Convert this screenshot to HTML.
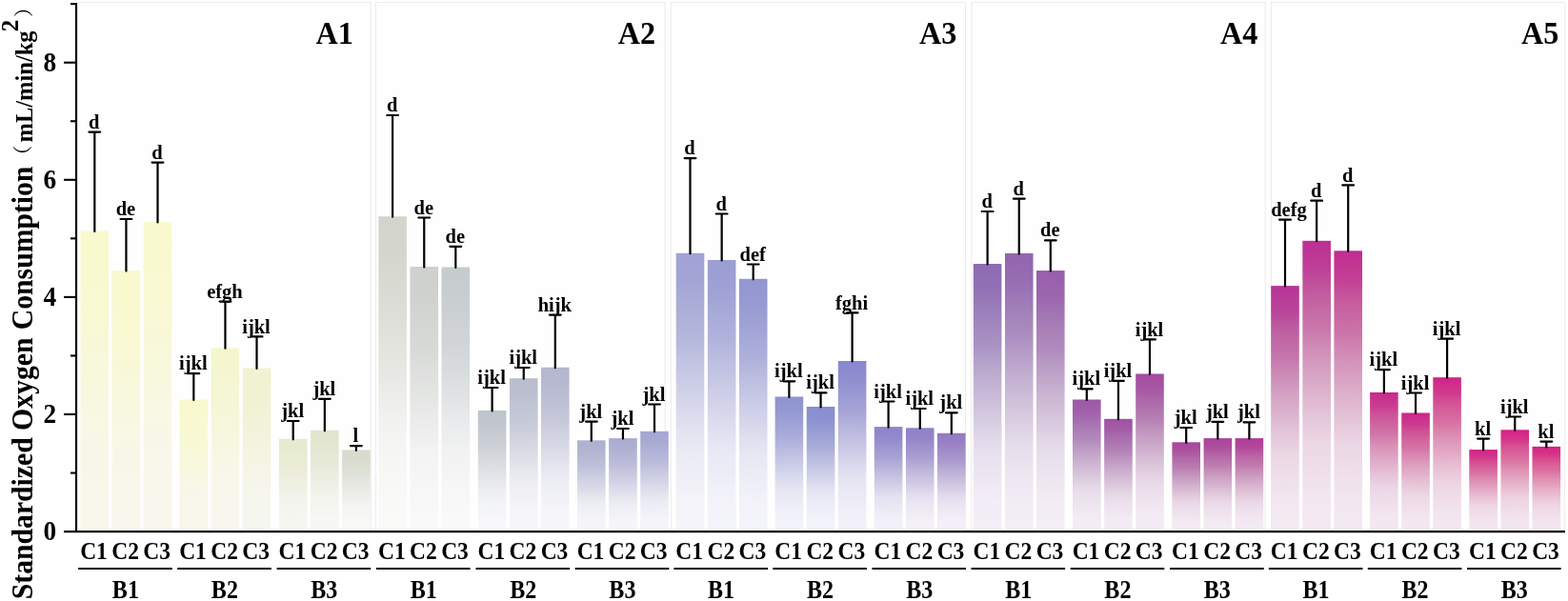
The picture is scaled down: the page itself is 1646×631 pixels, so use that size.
<!DOCTYPE html>
<html lang="en"><head><meta charset="utf-8"><title>Standardized Oxygen Consumption</title>
<style>
html,body{margin:0;padding:0;background:#fff;}
body{width:1646px;height:631px;overflow:hidden;}
svg{display:block;}
text{font-family:"Liberation Serif","Noto Serif CJK SC",serif;font-weight:bold;fill:#000;}
.sig{font-size:20.5px;text-anchor:middle;}
.c{font-size:26.2px;text-anchor:middle;}
.b{font-size:27.5px;text-anchor:middle;}
.yt{font-size:29.4px;text-anchor:end;}
.pt{font-size:34.5px;text-anchor:end;}
.ttl{font-size:31px;}
.unit{font-size:25px;}
.sup{font-size:25px;}
.par{font-family:"Liberation Serif","Noto Serif CJK SC",serif;font-weight:normal;font-size:20.5px;}
.ax{stroke:#000;stroke-width:2.1;fill:none;}
.eb{stroke:#000;stroke-width:2.2;fill:none;stroke-linecap:round;}
.gl{stroke:#000;stroke-width:2;fill:none;}
.pn{fill:#fefefe;stroke:#ececec;stroke-width:1;}
</style></head><body>
<svg width="1646" height="631" viewBox="0 0 1646 631">
<rect x="0" y="0" width="1646" height="631" fill="#ffffff"/>
<defs>
<linearGradient id="g0" x1="0" y1="0" x2="0" y2="1"><stop offset="0" stop-color="#f9f9ce"/><stop offset="0.05" stop-color="#f9f9ce"/><stop offset="0.1" stop-color="#f9f9cf"/><stop offset="0.15" stop-color="#f9f9d0"/><stop offset="0.2" stop-color="#f9f9d2"/><stop offset="0.25" stop-color="#f9f9d3"/><stop offset="0.3" stop-color="#f9f9d4"/><stop offset="0.35" stop-color="#f8f8d7"/><stop offset="0.4" stop-color="#f8f8d9"/><stop offset="0.45" stop-color="#f8f8db"/><stop offset="0.5" stop-color="#f8f8de"/><stop offset="0.55" stop-color="#f8f8e0"/><stop offset="0.6" stop-color="#f8f8e2"/><stop offset="0.65" stop-color="#f8f8e5"/><stop offset="0.7" stop-color="#f7f7e7"/><stop offset="0.75" stop-color="#f7f7e8"/><stop offset="0.8" stop-color="#f7f7e9"/><stop offset="0.85" stop-color="#f7f7ea"/><stop offset="0.9" stop-color="#f7f7eb"/><stop offset="0.95" stop-color="#f7f7ec"/><stop offset="1" stop-color="#f7f7ec"/></linearGradient>
<linearGradient id="g1" x1="0" y1="0" x2="0" y2="1"><stop offset="0" stop-color="#f9f9ce"/><stop offset="0.05" stop-color="#f9f9cf"/><stop offset="0.1" stop-color="#f9f9cf"/><stop offset="0.15" stop-color="#f9f9d0"/><stop offset="0.2" stop-color="#f9f9d2"/><stop offset="0.25" stop-color="#f9f9d3"/><stop offset="0.3" stop-color="#f9f9d5"/><stop offset="0.35" stop-color="#f8f8d7"/><stop offset="0.4" stop-color="#f8f8d9"/><stop offset="0.45" stop-color="#f8f8dc"/><stop offset="0.5" stop-color="#f8f8de"/><stop offset="0.55" stop-color="#f8f8e1"/><stop offset="0.6" stop-color="#f8f8e3"/><stop offset="0.65" stop-color="#f8f8e6"/><stop offset="0.7" stop-color="#f7f7e8"/><stop offset="0.75" stop-color="#f7f7e9"/><stop offset="0.8" stop-color="#f7f7ea"/><stop offset="0.85" stop-color="#f7f7eb"/><stop offset="0.9" stop-color="#f7f7ec"/><stop offset="0.95" stop-color="#f7f7ed"/><stop offset="1" stop-color="#f7f7ed"/></linearGradient>
<linearGradient id="g2" x1="0" y1="0" x2="0" y2="1"><stop offset="0" stop-color="#f9f9ce"/><stop offset="0.05" stop-color="#f9f9cf"/><stop offset="0.1" stop-color="#f9f9cf"/><stop offset="0.15" stop-color="#f9f9d1"/><stop offset="0.2" stop-color="#f9f9d2"/><stop offset="0.25" stop-color="#f9f9d3"/><stop offset="0.3" stop-color="#f9f9d5"/><stop offset="0.35" stop-color="#f8f8d7"/><stop offset="0.4" stop-color="#f8f8da"/><stop offset="0.45" stop-color="#f8f8dc"/><stop offset="0.5" stop-color="#f8f8df"/><stop offset="0.55" stop-color="#f8f8e1"/><stop offset="0.6" stop-color="#f8f8e4"/><stop offset="0.65" stop-color="#f8f8e6"/><stop offset="0.7" stop-color="#f7f7e9"/><stop offset="0.75" stop-color="#f7f7ea"/><stop offset="0.8" stop-color="#f7f7eb"/><stop offset="0.85" stop-color="#f7f7ec"/><stop offset="0.9" stop-color="#f7f7ed"/><stop offset="0.95" stop-color="#f7f7ee"/><stop offset="1" stop-color="#f7f7ee"/></linearGradient>
<linearGradient id="g3" x1="0" y1="0" x2="0" y2="1"><stop offset="0" stop-color="#f8f9cd"/><stop offset="0.05" stop-color="#f8f9ce"/><stop offset="0.1" stop-color="#f8f9ce"/><stop offset="0.15" stop-color="#f8f9d0"/><stop offset="0.2" stop-color="#f8f9d1"/><stop offset="0.25" stop-color="#f8f9d3"/><stop offset="0.3" stop-color="#f8f9d4"/><stop offset="0.35" stop-color="#f8f8d7"/><stop offset="0.4" stop-color="#f8f8d9"/><stop offset="0.45" stop-color="#f8f8dc"/><stop offset="0.5" stop-color="#f8f8de"/><stop offset="0.55" stop-color="#f7f8e1"/><stop offset="0.6" stop-color="#f7f8e4"/><stop offset="0.65" stop-color="#f7f8e6"/><stop offset="0.7" stop-color="#f7f7e9"/><stop offset="0.75" stop-color="#f7f7ea"/><stop offset="0.8" stop-color="#f7f7eb"/><stop offset="0.85" stop-color="#f7f7ec"/><stop offset="0.9" stop-color="#f7f7ed"/><stop offset="0.95" stop-color="#f7f7ee"/><stop offset="1" stop-color="#f7f7ee"/></linearGradient>
<linearGradient id="g4" x1="0" y1="0" x2="0" y2="1"><stop offset="0" stop-color="#f5f6cf"/><stop offset="0.05" stop-color="#f5f6d0"/><stop offset="0.1" stop-color="#f5f6d0"/><stop offset="0.15" stop-color="#f5f6d2"/><stop offset="0.2" stop-color="#f5f6d3"/><stop offset="0.25" stop-color="#f5f6d4"/><stop offset="0.3" stop-color="#f5f6d6"/><stop offset="0.35" stop-color="#f6f6d8"/><stop offset="0.4" stop-color="#f6f6db"/><stop offset="0.45" stop-color="#f6f6dd"/><stop offset="0.5" stop-color="#f6f7e0"/><stop offset="0.55" stop-color="#f6f7e2"/><stop offset="0.6" stop-color="#f6f7e5"/><stop offset="0.65" stop-color="#f6f7e7"/><stop offset="0.7" stop-color="#f7f7ea"/><stop offset="0.75" stop-color="#f7f7eb"/><stop offset="0.8" stop-color="#f7f7ec"/><stop offset="0.85" stop-color="#f7f7ed"/><stop offset="0.9" stop-color="#f7f7ee"/><stop offset="0.95" stop-color="#f7f7ef"/><stop offset="1" stop-color="#f7f7ef"/></linearGradient>
<linearGradient id="g5" x1="0" y1="0" x2="0" y2="1"><stop offset="0" stop-color="#f0f2d0"/><stop offset="0.05" stop-color="#f0f2d1"/><stop offset="0.1" stop-color="#f0f2d1"/><stop offset="0.15" stop-color="#f0f2d3"/><stop offset="0.2" stop-color="#f1f2d4"/><stop offset="0.25" stop-color="#f1f3d5"/><stop offset="0.3" stop-color="#f1f3d7"/><stop offset="0.35" stop-color="#f2f3d9"/><stop offset="0.4" stop-color="#f2f3dc"/><stop offset="0.45" stop-color="#f3f4de"/><stop offset="0.5" stop-color="#f3f4e1"/><stop offset="0.55" stop-color="#f4f4e3"/><stop offset="0.6" stop-color="#f4f5e6"/><stop offset="0.65" stop-color="#f5f5e8"/><stop offset="0.7" stop-color="#f5f5eb"/><stop offset="0.75" stop-color="#f5f5ec"/><stop offset="0.8" stop-color="#f5f6ed"/><stop offset="0.85" stop-color="#f6f6ee"/><stop offset="0.9" stop-color="#f6f6ef"/><stop offset="0.95" stop-color="#f6f6f0"/><stop offset="1" stop-color="#f6f6f0"/></linearGradient>
<linearGradient id="g6" x1="0" y1="0" x2="0" y2="1"><stop offset="0" stop-color="#e7eace"/><stop offset="0.05" stop-color="#e7eacf"/><stop offset="0.1" stop-color="#e7eacf"/><stop offset="0.15" stop-color="#e8ebd1"/><stop offset="0.2" stop-color="#e9ebd3"/><stop offset="0.25" stop-color="#e9ecd4"/><stop offset="0.3" stop-color="#eaecd6"/><stop offset="0.35" stop-color="#ebedd9"/><stop offset="0.4" stop-color="#eceedb"/><stop offset="0.45" stop-color="#eeefde"/><stop offset="0.5" stop-color="#eff0e1"/><stop offset="0.55" stop-color="#f0f1e4"/><stop offset="0.6" stop-color="#f1f2e7"/><stop offset="0.65" stop-color="#f2f3ea"/><stop offset="0.7" stop-color="#f4f4ec"/><stop offset="0.75" stop-color="#f4f4ee"/><stop offset="0.8" stop-color="#f5f5ef"/><stop offset="0.85" stop-color="#f5f5f0"/><stop offset="0.9" stop-color="#f6f6f1"/><stop offset="0.95" stop-color="#f6f6f2"/><stop offset="1" stop-color="#f6f6f2"/></linearGradient>
<linearGradient id="g7" x1="0" y1="0" x2="0" y2="1"><stop offset="0" stop-color="#e1e5cd"/><stop offset="0.05" stop-color="#e1e5ce"/><stop offset="0.1" stop-color="#e2e6ce"/><stop offset="0.15" stop-color="#e3e6d0"/><stop offset="0.2" stop-color="#e4e7d2"/><stop offset="0.25" stop-color="#e5e8d4"/><stop offset="0.3" stop-color="#e6e9d5"/><stop offset="0.35" stop-color="#e7ead9"/><stop offset="0.4" stop-color="#e9ebdc"/><stop offset="0.45" stop-color="#ebeddf"/><stop offset="0.5" stop-color="#eceee2"/><stop offset="0.55" stop-color="#eef0e5"/><stop offset="0.6" stop-color="#f0f1e8"/><stop offset="0.65" stop-color="#f2f3eb"/><stop offset="0.7" stop-color="#f3f4ee"/><stop offset="0.75" stop-color="#f4f5ef"/><stop offset="0.8" stop-color="#f5f5f1"/><stop offset="0.85" stop-color="#f6f6f2"/><stop offset="0.9" stop-color="#f7f7f3"/><stop offset="0.95" stop-color="#f7f7f4"/><stop offset="1" stop-color="#f7f7f4"/></linearGradient>
<linearGradient id="g8" x1="0" y1="0" x2="0" y2="1"><stop offset="0" stop-color="#d7dbcd"/><stop offset="0.05" stop-color="#d8dbce"/><stop offset="0.1" stop-color="#d8dcce"/><stop offset="0.15" stop-color="#daddd0"/><stop offset="0.2" stop-color="#dbdfd2"/><stop offset="0.25" stop-color="#dde0d4"/><stop offset="0.3" stop-color="#dee1d6"/><stop offset="0.35" stop-color="#e1e4da"/><stop offset="0.4" stop-color="#e4e6dd"/><stop offset="0.45" stop-color="#e6e8e0"/><stop offset="0.5" stop-color="#e9ebe3"/><stop offset="0.55" stop-color="#ecede7"/><stop offset="0.6" stop-color="#eeefea"/><stop offset="0.65" stop-color="#f1f2ed"/><stop offset="0.7" stop-color="#f4f4f0"/><stop offset="0.75" stop-color="#f5f5f2"/><stop offset="0.8" stop-color="#f6f6f3"/><stop offset="0.85" stop-color="#f7f7f5"/><stop offset="0.9" stop-color="#f8f8f6"/><stop offset="0.95" stop-color="#f9f9f7"/><stop offset="1" stop-color="#f9f9f7"/></linearGradient>
<linearGradient id="g9" x1="0" y1="0" x2="0" y2="1"><stop offset="0" stop-color="#d3d5cc"/><stop offset="0.05" stop-color="#d4d6cd"/><stop offset="0.1" stop-color="#d4d6ce"/><stop offset="0.15" stop-color="#d6d8d0"/><stop offset="0.2" stop-color="#d8dad2"/><stop offset="0.25" stop-color="#dadbd4"/><stop offset="0.3" stop-color="#dbddd6"/><stop offset="0.35" stop-color="#dfe0d9"/><stop offset="0.4" stop-color="#e2e3dd"/><stop offset="0.45" stop-color="#e5e6e0"/><stop offset="0.5" stop-color="#e7e8e4"/><stop offset="0.55" stop-color="#ebebe7"/><stop offset="0.6" stop-color="#eeeeeb"/><stop offset="0.65" stop-color="#f1f1ef"/><stop offset="0.7" stop-color="#f4f4f2"/><stop offset="0.75" stop-color="#f5f5f4"/><stop offset="0.8" stop-color="#f7f7f5"/><stop offset="0.85" stop-color="#f8f8f7"/><stop offset="0.9" stop-color="#f9f9f8"/><stop offset="0.95" stop-color="#fafaf9"/><stop offset="1" stop-color="#fafaf9"/></linearGradient>
<linearGradient id="g10" x1="0" y1="0" x2="0" y2="1"><stop offset="0" stop-color="#cdd0cd"/><stop offset="0.05" stop-color="#ced1ce"/><stop offset="0.1" stop-color="#ced1ce"/><stop offset="0.15" stop-color="#d1d3d1"/><stop offset="0.2" stop-color="#d3d5d3"/><stop offset="0.25" stop-color="#d5d7d5"/><stop offset="0.3" stop-color="#d7d9d7"/><stop offset="0.35" stop-color="#dadcda"/><stop offset="0.4" stop-color="#dedfde"/><stop offset="0.45" stop-color="#e1e3e1"/><stop offset="0.5" stop-color="#e4e6e4"/><stop offset="0.55" stop-color="#e8e9e8"/><stop offset="0.6" stop-color="#ebeceb"/><stop offset="0.65" stop-color="#efefef"/><stop offset="0.7" stop-color="#f2f3f2"/><stop offset="0.75" stop-color="#f4f4f4"/><stop offset="0.8" stop-color="#f5f5f5"/><stop offset="0.85" stop-color="#f7f7f7"/><stop offset="0.9" stop-color="#f8f8f8"/><stop offset="0.95" stop-color="#f9f9f9"/><stop offset="1" stop-color="#f9f9f9"/></linearGradient>
<linearGradient id="g11" x1="0" y1="0" x2="0" y2="1"><stop offset="0" stop-color="#c6cbce"/><stop offset="0.05" stop-color="#c7cccf"/><stop offset="0.1" stop-color="#c8cdcf"/><stop offset="0.15" stop-color="#cacfd1"/><stop offset="0.2" stop-color="#cdd1d3"/><stop offset="0.25" stop-color="#cfd3d5"/><stop offset="0.3" stop-color="#d1d5d7"/><stop offset="0.35" stop-color="#d5d9db"/><stop offset="0.4" stop-color="#d9dcde"/><stop offset="0.45" stop-color="#dde0e1"/><stop offset="0.5" stop-color="#e1e3e5"/><stop offset="0.55" stop-color="#e5e7e8"/><stop offset="0.6" stop-color="#e9ebec"/><stop offset="0.65" stop-color="#edeeef"/><stop offset="0.7" stop-color="#f1f2f2"/><stop offset="0.75" stop-color="#f3f3f4"/><stop offset="0.8" stop-color="#f5f5f5"/><stop offset="0.85" stop-color="#f6f7f7"/><stop offset="0.9" stop-color="#f8f8f8"/><stop offset="0.95" stop-color="#f9f9f9"/><stop offset="1" stop-color="#f9f9f9"/></linearGradient>
<linearGradient id="g12" x1="0" y1="0" x2="0" y2="1"><stop offset="0" stop-color="#bfc4cc"/><stop offset="0.05" stop-color="#c0c5cd"/><stop offset="0.1" stop-color="#c1c6ce"/><stop offset="0.15" stop-color="#c4c8d0"/><stop offset="0.2" stop-color="#c7cbd2"/><stop offset="0.25" stop-color="#c9cdd4"/><stop offset="0.3" stop-color="#ccd0d6"/><stop offset="0.35" stop-color="#d1d4da"/><stop offset="0.4" stop-color="#d5d8dd"/><stop offset="0.45" stop-color="#d9dce1"/><stop offset="0.5" stop-color="#dee0e4"/><stop offset="0.55" stop-color="#e2e4e8"/><stop offset="0.6" stop-color="#e7e8ec"/><stop offset="0.65" stop-color="#ebecef"/><stop offset="0.7" stop-color="#eff0f3"/><stop offset="0.75" stop-color="#f1f2f4"/><stop offset="0.8" stop-color="#f3f4f6"/><stop offset="0.85" stop-color="#f5f5f8"/><stop offset="0.9" stop-color="#f7f7f9"/><stop offset="0.95" stop-color="#f8f8fa"/><stop offset="1" stop-color="#f8f8fa"/></linearGradient>
<linearGradient id="g13" x1="0" y1="0" x2="0" y2="1"><stop offset="0" stop-color="#b9bdce"/><stop offset="0.05" stop-color="#babecf"/><stop offset="0.1" stop-color="#bbbfcf"/><stop offset="0.15" stop-color="#bec2d2"/><stop offset="0.2" stop-color="#c1c5d4"/><stop offset="0.25" stop-color="#c4c7d6"/><stop offset="0.3" stop-color="#c7cad8"/><stop offset="0.35" stop-color="#cccfdb"/><stop offset="0.4" stop-color="#d1d3df"/><stop offset="0.45" stop-color="#d6d8e2"/><stop offset="0.5" stop-color="#dbdce5"/><stop offset="0.55" stop-color="#e0e1e9"/><stop offset="0.6" stop-color="#e4e6ec"/><stop offset="0.65" stop-color="#e9eaf0"/><stop offset="0.7" stop-color="#eeeef3"/><stop offset="0.75" stop-color="#f0f0f5"/><stop offset="0.8" stop-color="#f2f2f6"/><stop offset="0.85" stop-color="#f4f4f8"/><stop offset="0.9" stop-color="#f6f6f9"/><stop offset="0.95" stop-color="#f6f6fa"/><stop offset="1" stop-color="#f7f7fa"/></linearGradient>
<linearGradient id="g14" x1="0" y1="0" x2="0" y2="1"><stop offset="0" stop-color="#b4b7cf"/><stop offset="0.05" stop-color="#b5b8d0"/><stop offset="0.1" stop-color="#b6b9d0"/><stop offset="0.15" stop-color="#babdd2"/><stop offset="0.2" stop-color="#bdc0d4"/><stop offset="0.25" stop-color="#c0c3d6"/><stop offset="0.3" stop-color="#c4c6d8"/><stop offset="0.35" stop-color="#c9cbdc"/><stop offset="0.4" stop-color="#ced0df"/><stop offset="0.45" stop-color="#d4d5e2"/><stop offset="0.5" stop-color="#d9dae6"/><stop offset="0.55" stop-color="#dedfe9"/><stop offset="0.6" stop-color="#e3e4ed"/><stop offset="0.65" stop-color="#e8e9f0"/><stop offset="0.7" stop-color="#edeef3"/><stop offset="0.75" stop-color="#eff0f5"/><stop offset="0.8" stop-color="#f2f2f6"/><stop offset="0.85" stop-color="#f4f4f8"/><stop offset="0.9" stop-color="#f6f6f9"/><stop offset="0.95" stop-color="#f6f6fa"/><stop offset="1" stop-color="#f7f7fa"/></linearGradient>
<linearGradient id="g15" x1="0" y1="0" x2="0" y2="1"><stop offset="0" stop-color="#aeb1d0"/><stop offset="0.05" stop-color="#afb2d1"/><stop offset="0.1" stop-color="#b1b4d1"/><stop offset="0.15" stop-color="#b4b7d3"/><stop offset="0.2" stop-color="#b8bbd5"/><stop offset="0.25" stop-color="#bcbed7"/><stop offset="0.3" stop-color="#bfc1d9"/><stop offset="0.35" stop-color="#c5c7dd"/><stop offset="0.4" stop-color="#cbcce0"/><stop offset="0.45" stop-color="#d0d2e3"/><stop offset="0.5" stop-color="#d6d7e6"/><stop offset="0.55" stop-color="#dbdcea"/><stop offset="0.6" stop-color="#e1e2ed"/><stop offset="0.65" stop-color="#e6e7f0"/><stop offset="0.7" stop-color="#ececf3"/><stop offset="0.75" stop-color="#eeeef5"/><stop offset="0.8" stop-color="#f0f0f6"/><stop offset="0.85" stop-color="#f3f3f8"/><stop offset="0.9" stop-color="#f5f5f9"/><stop offset="0.95" stop-color="#f5f5fa"/><stop offset="1" stop-color="#f6f6fa"/></linearGradient>
<linearGradient id="g16" x1="0" y1="0" x2="0" y2="1"><stop offset="0" stop-color="#aaacd1"/><stop offset="0.05" stop-color="#abadd2"/><stop offset="0.1" stop-color="#adafd2"/><stop offset="0.15" stop-color="#b1b3d4"/><stop offset="0.2" stop-color="#b5b6d6"/><stop offset="0.25" stop-color="#b9bad8"/><stop offset="0.3" stop-color="#bcbeda"/><stop offset="0.35" stop-color="#c3c4dd"/><stop offset="0.4" stop-color="#c9cae0"/><stop offset="0.45" stop-color="#cecfe4"/><stop offset="0.5" stop-color="#d4d5e7"/><stop offset="0.55" stop-color="#dadbea"/><stop offset="0.6" stop-color="#e0e0ed"/><stop offset="0.65" stop-color="#e6e6f0"/><stop offset="0.7" stop-color="#ebebf4"/><stop offset="0.75" stop-color="#eeeef5"/><stop offset="0.8" stop-color="#f0f0f6"/><stop offset="0.85" stop-color="#f2f2f8"/><stop offset="0.9" stop-color="#f5f5f9"/><stop offset="0.95" stop-color="#f5f5fa"/><stop offset="1" stop-color="#f6f6fa"/></linearGradient>
<linearGradient id="g17" x1="0" y1="0" x2="0" y2="1"><stop offset="0" stop-color="#a5a7d2"/><stop offset="0.05" stop-color="#a7a8d3"/><stop offset="0.1" stop-color="#a8aad3"/><stop offset="0.15" stop-color="#acaed5"/><stop offset="0.2" stop-color="#b0b2d7"/><stop offset="0.25" stop-color="#b4b6d9"/><stop offset="0.3" stop-color="#b8badb"/><stop offset="0.35" stop-color="#bfc0de"/><stop offset="0.4" stop-color="#c5c7e1"/><stop offset="0.45" stop-color="#cccde4"/><stop offset="0.5" stop-color="#d2d2e7"/><stop offset="0.55" stop-color="#d8d9ea"/><stop offset="0.6" stop-color="#dedfed"/><stop offset="0.65" stop-color="#e4e4f1"/><stop offset="0.7" stop-color="#eaeaf4"/><stop offset="0.75" stop-color="#ececf5"/><stop offset="0.8" stop-color="#efeff7"/><stop offset="0.85" stop-color="#f1f1f8"/><stop offset="0.9" stop-color="#f4f4f9"/><stop offset="0.95" stop-color="#f4f4fa"/><stop offset="1" stop-color="#f5f5fa"/></linearGradient>
<linearGradient id="g18" x1="0" y1="0" x2="0" y2="1"><stop offset="0" stop-color="#9fa2d3"/><stop offset="0.05" stop-color="#a1a4d4"/><stop offset="0.1" stop-color="#a2a5d4"/><stop offset="0.15" stop-color="#a7aad6"/><stop offset="0.2" stop-color="#acaed8"/><stop offset="0.25" stop-color="#b0b2da"/><stop offset="0.3" stop-color="#b4b6db"/><stop offset="0.35" stop-color="#bbbddf"/><stop offset="0.4" stop-color="#c2c4e2"/><stop offset="0.45" stop-color="#c9cae5"/><stop offset="0.5" stop-color="#cfd1e7"/><stop offset="0.55" stop-color="#d6d7eb"/><stop offset="0.6" stop-color="#ddddee"/><stop offset="0.65" stop-color="#e3e3f1"/><stop offset="0.7" stop-color="#e9e9f4"/><stop offset="0.75" stop-color="#ececf5"/><stop offset="0.8" stop-color="#eeeff7"/><stop offset="0.85" stop-color="#f1f1f8"/><stop offset="0.9" stop-color="#f4f4f9"/><stop offset="0.95" stop-color="#f4f4fa"/><stop offset="1" stop-color="#f5f5fa"/></linearGradient>
<linearGradient id="g19" x1="0" y1="0" x2="0" y2="1"><stop offset="0" stop-color="#9b9dd3"/><stop offset="0.05" stop-color="#9d9fd4"/><stop offset="0.1" stop-color="#9fa0d4"/><stop offset="0.15" stop-color="#a3a5d6"/><stop offset="0.2" stop-color="#a8aad8"/><stop offset="0.25" stop-color="#adaeda"/><stop offset="0.3" stop-color="#b1b3db"/><stop offset="0.35" stop-color="#b9badf"/><stop offset="0.4" stop-color="#c0c1e2"/><stop offset="0.45" stop-color="#c7c8e5"/><stop offset="0.5" stop-color="#cdcee7"/><stop offset="0.55" stop-color="#d4d5eb"/><stop offset="0.6" stop-color="#dbdbee"/><stop offset="0.65" stop-color="#e1e2f1"/><stop offset="0.7" stop-color="#e8e8f4"/><stop offset="0.75" stop-color="#eaebf5"/><stop offset="0.8" stop-color="#ededf7"/><stop offset="0.85" stop-color="#f0f0f8"/><stop offset="0.9" stop-color="#f3f3f9"/><stop offset="0.95" stop-color="#f3f3fa"/><stop offset="1" stop-color="#f4f4fa"/></linearGradient>
<linearGradient id="g20" x1="0" y1="0" x2="0" y2="1"><stop offset="0" stop-color="#9396d1"/><stop offset="0.05" stop-color="#9598d2"/><stop offset="0.1" stop-color="#979ad2"/><stop offset="0.15" stop-color="#9d9fd4"/><stop offset="0.2" stop-color="#a2a4d6"/><stop offset="0.25" stop-color="#a7a9d8"/><stop offset="0.3" stop-color="#acaeda"/><stop offset="0.35" stop-color="#b4b6dd"/><stop offset="0.4" stop-color="#bcbde0"/><stop offset="0.45" stop-color="#c3c5e4"/><stop offset="0.5" stop-color="#cbcce7"/><stop offset="0.55" stop-color="#d2d3ea"/><stop offset="0.6" stop-color="#d9daed"/><stop offset="0.65" stop-color="#e0e1f0"/><stop offset="0.7" stop-color="#e7e7f4"/><stop offset="0.75" stop-color="#eaeaf5"/><stop offset="0.8" stop-color="#ededf6"/><stop offset="0.85" stop-color="#f0f0f8"/><stop offset="0.9" stop-color="#f3f3f9"/><stop offset="0.95" stop-color="#f3f3fa"/><stop offset="1" stop-color="#f4f4fa"/></linearGradient>
<linearGradient id="g21" x1="0" y1="0" x2="0" y2="1"><stop offset="0" stop-color="#8f93d0"/><stop offset="0.05" stop-color="#9195d1"/><stop offset="0.1" stop-color="#9397d1"/><stop offset="0.15" stop-color="#999cd3"/><stop offset="0.2" stop-color="#9fa2d5"/><stop offset="0.25" stop-color="#a4a7d7"/><stop offset="0.3" stop-color="#a9acd9"/><stop offset="0.35" stop-color="#b1b4dd"/><stop offset="0.4" stop-color="#babbe0"/><stop offset="0.45" stop-color="#c1c3e3"/><stop offset="0.5" stop-color="#c9cae6"/><stop offset="0.55" stop-color="#d0d1ea"/><stop offset="0.6" stop-color="#d8d9ed"/><stop offset="0.65" stop-color="#dfdff0"/><stop offset="0.7" stop-color="#e6e6f3"/><stop offset="0.75" stop-color="#e9e9f5"/><stop offset="0.8" stop-color="#ececf6"/><stop offset="0.85" stop-color="#efeff8"/><stop offset="0.9" stop-color="#f1f2f9"/><stop offset="0.95" stop-color="#f2f2fa"/><stop offset="1" stop-color="#f3f3fa"/></linearGradient>
<linearGradient id="g22" x1="0" y1="0" x2="0" y2="1"><stop offset="0" stop-color="#878dcf"/><stop offset="0.05" stop-color="#898fd0"/><stop offset="0.1" stop-color="#8c91d0"/><stop offset="0.15" stop-color="#9297d2"/><stop offset="0.2" stop-color="#989dd4"/><stop offset="0.25" stop-color="#9ea2d6"/><stop offset="0.3" stop-color="#a4a8d8"/><stop offset="0.35" stop-color="#adb0dc"/><stop offset="0.4" stop-color="#b6b9df"/><stop offset="0.45" stop-color="#bec0e2"/><stop offset="0.5" stop-color="#c6c8e6"/><stop offset="0.55" stop-color="#ced0e9"/><stop offset="0.6" stop-color="#d6d7ed"/><stop offset="0.65" stop-color="#dedff0"/><stop offset="0.7" stop-color="#e5e5f3"/><stop offset="0.75" stop-color="#e8e9f5"/><stop offset="0.8" stop-color="#ebecf6"/><stop offset="0.85" stop-color="#eeeff8"/><stop offset="0.9" stop-color="#f1f1f9"/><stop offset="0.95" stop-color="#f2f2fa"/><stop offset="1" stop-color="#f3f3fa"/></linearGradient>
<linearGradient id="g23" x1="0" y1="0" x2="0" y2="1"><stop offset="0" stop-color="#8a88ce"/><stop offset="0.05" stop-color="#8c8acf"/><stop offset="0.1" stop-color="#8f8dcf"/><stop offset="0.15" stop-color="#9593d1"/><stop offset="0.2" stop-color="#9b99d3"/><stop offset="0.25" stop-color="#a09fd5"/><stop offset="0.3" stop-color="#a6a4d7"/><stop offset="0.35" stop-color="#afaddb"/><stop offset="0.4" stop-color="#b7b6de"/><stop offset="0.45" stop-color="#bfbee1"/><stop offset="0.5" stop-color="#c7c6e5"/><stop offset="0.55" stop-color="#cfcee8"/><stop offset="0.6" stop-color="#d7d6ec"/><stop offset="0.65" stop-color="#deddef"/><stop offset="0.7" stop-color="#e5e4f2"/><stop offset="0.75" stop-color="#e8e7f4"/><stop offset="0.8" stop-color="#ebeaf5"/><stop offset="0.85" stop-color="#eeedf7"/><stop offset="0.9" stop-color="#f1f0f8"/><stop offset="0.95" stop-color="#f2f1f9"/><stop offset="1" stop-color="#f3f2f9"/></linearGradient>
<linearGradient id="g24" x1="0" y1="0" x2="0" y2="1"><stop offset="0" stop-color="#8d84ca"/><stop offset="0.05" stop-color="#8f86cb"/><stop offset="0.1" stop-color="#9189cc"/><stop offset="0.15" stop-color="#978fce"/><stop offset="0.2" stop-color="#9d96d0"/><stop offset="0.25" stop-color="#a29cd2"/><stop offset="0.3" stop-color="#a8a1d4"/><stop offset="0.35" stop-color="#b0abd8"/><stop offset="0.4" stop-color="#b9b3dc"/><stop offset="0.45" stop-color="#c0bcdf"/><stop offset="0.5" stop-color="#c8c4e3"/><stop offset="0.55" stop-color="#d0cce7"/><stop offset="0.6" stop-color="#d7d4eb"/><stop offset="0.65" stop-color="#dfdcee"/><stop offset="0.7" stop-color="#e5e3f2"/><stop offset="0.75" stop-color="#e9e6f3"/><stop offset="0.8" stop-color="#ece9f5"/><stop offset="0.85" stop-color="#efecf7"/><stop offset="0.9" stop-color="#f1eff8"/><stop offset="0.95" stop-color="#f2f0f9"/><stop offset="1" stop-color="#f3f1f9"/></linearGradient>
<linearGradient id="g25" x1="0" y1="0" x2="0" y2="1"><stop offset="0" stop-color="#9080c7"/><stop offset="0.05" stop-color="#9283c8"/><stop offset="0.1" stop-color="#9485c9"/><stop offset="0.15" stop-color="#9a8ccb"/><stop offset="0.2" stop-color="#9f93cd"/><stop offset="0.25" stop-color="#a599d0"/><stop offset="0.3" stop-color="#aa9fd2"/><stop offset="0.35" stop-color="#b2a9d6"/><stop offset="0.4" stop-color="#bbb2da"/><stop offset="0.45" stop-color="#c2badd"/><stop offset="0.5" stop-color="#cac3e1"/><stop offset="0.55" stop-color="#d1cbe5"/><stop offset="0.6" stop-color="#d9d3e9"/><stop offset="0.65" stop-color="#e0dbed"/><stop offset="0.7" stop-color="#e7e2f1"/><stop offset="0.75" stop-color="#eae6f2"/><stop offset="0.8" stop-color="#ede9f4"/><stop offset="0.85" stop-color="#f0ecf5"/><stop offset="0.9" stop-color="#f2eff7"/><stop offset="0.95" stop-color="#f3f0f8"/><stop offset="1" stop-color="#f4f1f8"/></linearGradient>
<linearGradient id="g26" x1="0" y1="0" x2="0" y2="1"><stop offset="0" stop-color="#937bc2"/><stop offset="0.05" stop-color="#957ec3"/><stop offset="0.1" stop-color="#9780c4"/><stop offset="0.15" stop-color="#9d88c7"/><stop offset="0.2" stop-color="#a28fc9"/><stop offset="0.25" stop-color="#a795cc"/><stop offset="0.3" stop-color="#ac9bce"/><stop offset="0.35" stop-color="#b4a6d3"/><stop offset="0.4" stop-color="#bcafd7"/><stop offset="0.45" stop-color="#c3b8db"/><stop offset="0.5" stop-color="#cbc0df"/><stop offset="0.55" stop-color="#d2c9e3"/><stop offset="0.6" stop-color="#d9d2e8"/><stop offset="0.65" stop-color="#e0daec"/><stop offset="0.7" stop-color="#e7e1f0"/><stop offset="0.75" stop-color="#eae5f2"/><stop offset="0.8" stop-color="#ede8f3"/><stop offset="0.85" stop-color="#f0ebf5"/><stop offset="0.9" stop-color="#f3eef7"/><stop offset="0.95" stop-color="#f3eff8"/><stop offset="1" stop-color="#f4f0f8"/></linearGradient>
<linearGradient id="g27" x1="0" y1="0" x2="0" y2="1"><stop offset="0" stop-color="#8e6ab2"/><stop offset="0.05" stop-color="#906eb3"/><stop offset="0.1" stop-color="#9271b5"/><stop offset="0.15" stop-color="#987ab8"/><stop offset="0.2" stop-color="#9e82bc"/><stop offset="0.25" stop-color="#a38abf"/><stop offset="0.3" stop-color="#a991c2"/><stop offset="0.35" stop-color="#b19dc8"/><stop offset="0.4" stop-color="#baa8cd"/><stop offset="0.45" stop-color="#c1b2d3"/><stop offset="0.5" stop-color="#c9bbd8"/><stop offset="0.55" stop-color="#d1c5dd"/><stop offset="0.6" stop-color="#d8cee3"/><stop offset="0.65" stop-color="#dfd7e8"/><stop offset="0.7" stop-color="#e6dfed"/><stop offset="0.75" stop-color="#eae3ef"/><stop offset="0.8" stop-color="#ede6f1"/><stop offset="0.85" stop-color="#f0eaf4"/><stop offset="0.9" stop-color="#f2edf6"/><stop offset="0.95" stop-color="#f3eef6"/><stop offset="1" stop-color="#f4eff7"/></linearGradient>
<linearGradient id="g28" x1="0" y1="0" x2="0" y2="1"><stop offset="0" stop-color="#9265af"/><stop offset="0.05" stop-color="#9469b0"/><stop offset="0.1" stop-color="#966cb2"/><stop offset="0.15" stop-color="#9c76b5"/><stop offset="0.2" stop-color="#a17fb9"/><stop offset="0.25" stop-color="#a687bc"/><stop offset="0.3" stop-color="#ab8ec0"/><stop offset="0.35" stop-color="#b49ac6"/><stop offset="0.4" stop-color="#bba5cb"/><stop offset="0.45" stop-color="#c3b0d1"/><stop offset="0.5" stop-color="#cab9d6"/><stop offset="0.55" stop-color="#d2c3dc"/><stop offset="0.6" stop-color="#d9cce1"/><stop offset="0.65" stop-color="#e0d5e7"/><stop offset="0.7" stop-color="#e7deec"/><stop offset="0.75" stop-color="#eae1ee"/><stop offset="0.8" stop-color="#ede5f0"/><stop offset="0.85" stop-color="#f0e9f3"/><stop offset="0.9" stop-color="#f2ecf5"/><stop offset="0.95" stop-color="#f3edf5"/><stop offset="1" stop-color="#f4eef6"/></linearGradient>
<linearGradient id="g29" x1="0" y1="0" x2="0" y2="1"><stop offset="0" stop-color="#985eab"/><stop offset="0.05" stop-color="#9a62ac"/><stop offset="0.1" stop-color="#9c66ae"/><stop offset="0.15" stop-color="#a171b2"/><stop offset="0.2" stop-color="#a67ab6"/><stop offset="0.25" stop-color="#ab83b9"/><stop offset="0.3" stop-color="#af8abd"/><stop offset="0.35" stop-color="#b797c3"/><stop offset="0.4" stop-color="#bea3c9"/><stop offset="0.45" stop-color="#c5aecf"/><stop offset="0.5" stop-color="#ccb8d4"/><stop offset="0.55" stop-color="#d3c2da"/><stop offset="0.6" stop-color="#dacbe0"/><stop offset="0.65" stop-color="#e1d5e6"/><stop offset="0.7" stop-color="#e7ddeb"/><stop offset="0.75" stop-color="#eae1ee"/><stop offset="0.8" stop-color="#ede5f0"/><stop offset="0.85" stop-color="#f0e9f2"/><stop offset="0.9" stop-color="#f3ecf5"/><stop offset="0.95" stop-color="#f3edf5"/><stop offset="1" stop-color="#f4eef6"/></linearGradient>
<linearGradient id="g30" x1="0" y1="0" x2="0" y2="1"><stop offset="0" stop-color="#9c58a8"/><stop offset="0.05" stop-color="#9e5da9"/><stop offset="0.1" stop-color="#a061ab"/><stop offset="0.15" stop-color="#a46caf"/><stop offset="0.2" stop-color="#a976b3"/><stop offset="0.25" stop-color="#ae7fb7"/><stop offset="0.3" stop-color="#b287bb"/><stop offset="0.35" stop-color="#b994c1"/><stop offset="0.4" stop-color="#c0a0c7"/><stop offset="0.45" stop-color="#c7abcd"/><stop offset="0.5" stop-color="#ceb6d3"/><stop offset="0.55" stop-color="#d5c0d9"/><stop offset="0.6" stop-color="#dbcadf"/><stop offset="0.65" stop-color="#e2d3e4"/><stop offset="0.7" stop-color="#e8dcea"/><stop offset="0.75" stop-color="#ebe0ed"/><stop offset="0.8" stop-color="#ede4ef"/><stop offset="0.85" stop-color="#f0e7f1"/><stop offset="0.9" stop-color="#f3ebf4"/><stop offset="0.95" stop-color="#f3ecf4"/><stop offset="1" stop-color="#f4edf5"/></linearGradient>
<linearGradient id="g31" x1="0" y1="0" x2="0" y2="1"><stop offset="0" stop-color="#a052a4"/><stop offset="0.05" stop-color="#a257a6"/><stop offset="0.1" stop-color="#a35ca7"/><stop offset="0.15" stop-color="#a868ab"/><stop offset="0.2" stop-color="#ac72af"/><stop offset="0.25" stop-color="#b17bb4"/><stop offset="0.3" stop-color="#b584b7"/><stop offset="0.35" stop-color="#bc92be"/><stop offset="0.4" stop-color="#c29ec5"/><stop offset="0.45" stop-color="#c9a9cb"/><stop offset="0.5" stop-color="#cfb4d1"/><stop offset="0.55" stop-color="#d6bed7"/><stop offset="0.6" stop-color="#dcc8dd"/><stop offset="0.65" stop-color="#e2d2e3"/><stop offset="0.7" stop-color="#e8dbe9"/><stop offset="0.75" stop-color="#ebdfeb"/><stop offset="0.8" stop-color="#eee3ee"/><stop offset="0.85" stop-color="#f0e6f0"/><stop offset="0.9" stop-color="#f3eaf3"/><stop offset="0.95" stop-color="#f3ebf3"/><stop offset="1" stop-color="#f4ecf4"/></linearGradient>
<linearGradient id="g32" x1="0" y1="0" x2="0" y2="1"><stop offset="0" stop-color="#a44ca0"/><stop offset="0.05" stop-color="#a652a2"/><stop offset="0.1" stop-color="#a757a3"/><stop offset="0.15" stop-color="#ab63a8"/><stop offset="0.2" stop-color="#af6eac"/><stop offset="0.25" stop-color="#b478b1"/><stop offset="0.3" stop-color="#b781b5"/><stop offset="0.35" stop-color="#be90bc"/><stop offset="0.4" stop-color="#c59cc2"/><stop offset="0.45" stop-color="#cba8c9"/><stop offset="0.5" stop-color="#d1b3cf"/><stop offset="0.55" stop-color="#d7bdd6"/><stop offset="0.6" stop-color="#ddc8dc"/><stop offset="0.65" stop-color="#e3d1e2"/><stop offset="0.7" stop-color="#e9dae8"/><stop offset="0.75" stop-color="#ebdeeb"/><stop offset="0.8" stop-color="#eee2ee"/><stop offset="0.85" stop-color="#f0e6f0"/><stop offset="0.9" stop-color="#f3eaf3"/><stop offset="0.95" stop-color="#f3ebf3"/><stop offset="1" stop-color="#f4ecf4"/></linearGradient>
<linearGradient id="g33" x1="0" y1="0" x2="0" y2="1"><stop offset="0" stop-color="#a8469d"/><stop offset="0.05" stop-color="#a94c9f"/><stop offset="0.1" stop-color="#ab52a0"/><stop offset="0.15" stop-color="#af5fa5"/><stop offset="0.2" stop-color="#b36baa"/><stop offset="0.25" stop-color="#b775ae"/><stop offset="0.3" stop-color="#ba7eb2"/><stop offset="0.35" stop-color="#c18dba"/><stop offset="0.4" stop-color="#c79ac0"/><stop offset="0.45" stop-color="#cca6c7"/><stop offset="0.5" stop-color="#d2b1cd"/><stop offset="0.55" stop-color="#d8bcd4"/><stop offset="0.6" stop-color="#dec6db"/><stop offset="0.65" stop-color="#e4d0e1"/><stop offset="0.7" stop-color="#e9d9e7"/><stop offset="0.75" stop-color="#ecddea"/><stop offset="0.8" stop-color="#eee1ec"/><stop offset="0.85" stop-color="#f0e5ef"/><stop offset="0.9" stop-color="#f3e9f2"/><stop offset="0.95" stop-color="#f3eaf2"/><stop offset="1" stop-color="#f4ebf3"/></linearGradient>
<linearGradient id="g34" x1="0" y1="0" x2="0" y2="1"><stop offset="0" stop-color="#ac419a"/><stop offset="0.05" stop-color="#ad489c"/><stop offset="0.1" stop-color="#af4e9e"/><stop offset="0.15" stop-color="#b25ca2"/><stop offset="0.2" stop-color="#b668a7"/><stop offset="0.25" stop-color="#ba73ac"/><stop offset="0.3" stop-color="#bd7db0"/><stop offset="0.35" stop-color="#c38cb8"/><stop offset="0.4" stop-color="#c999bf"/><stop offset="0.45" stop-color="#cea5c6"/><stop offset="0.5" stop-color="#d4b0cc"/><stop offset="0.55" stop-color="#d9bbd3"/><stop offset="0.6" stop-color="#dfc6da"/><stop offset="0.65" stop-color="#e4d0e0"/><stop offset="0.7" stop-color="#ead9e7"/><stop offset="0.75" stop-color="#ecddea"/><stop offset="0.8" stop-color="#eee1ec"/><stop offset="0.85" stop-color="#f1e5ef"/><stop offset="0.9" stop-color="#f3e9f2"/><stop offset="0.95" stop-color="#f3eaf2"/><stop offset="1" stop-color="#f4ebf3"/></linearGradient>
<linearGradient id="g35" x1="0" y1="0" x2="0" y2="1"><stop offset="0" stop-color="#b13a97"/><stop offset="0.05" stop-color="#b24299"/><stop offset="0.1" stop-color="#b3489b"/><stop offset="0.15" stop-color="#b758a0"/><stop offset="0.2" stop-color="#ba65a5"/><stop offset="0.25" stop-color="#bd70aa"/><stop offset="0.3" stop-color="#c17aae"/><stop offset="0.35" stop-color="#c689b6"/><stop offset="0.4" stop-color="#cb97bd"/><stop offset="0.45" stop-color="#d1a3c5"/><stop offset="0.5" stop-color="#d6aecb"/><stop offset="0.55" stop-color="#dbbad2"/><stop offset="0.6" stop-color="#e0c4d9"/><stop offset="0.65" stop-color="#e5cee0"/><stop offset="0.7" stop-color="#ead8e6"/><stop offset="0.75" stop-color="#ecdce9"/><stop offset="0.8" stop-color="#efe0ec"/><stop offset="0.85" stop-color="#f1e4ef"/><stop offset="0.9" stop-color="#f3e8f2"/><stop offset="0.95" stop-color="#f3e9f2"/><stop offset="1" stop-color="#f4eaf3"/></linearGradient>
<linearGradient id="g36" x1="0" y1="0" x2="0" y2="1"><stop offset="0" stop-color="#b73395"/><stop offset="0.05" stop-color="#b83c97"/><stop offset="0.1" stop-color="#b94399"/><stop offset="0.15" stop-color="#bc549e"/><stop offset="0.2" stop-color="#bf62a3"/><stop offset="0.25" stop-color="#c26da8"/><stop offset="0.3" stop-color="#c578ad"/><stop offset="0.35" stop-color="#ca87b4"/><stop offset="0.4" stop-color="#cf95bc"/><stop offset="0.45" stop-color="#d4a2c3"/><stop offset="0.5" stop-color="#d8adca"/><stop offset="0.55" stop-color="#ddb9d1"/><stop offset="0.6" stop-color="#e2c4d8"/><stop offset="0.65" stop-color="#e6cedf"/><stop offset="0.7" stop-color="#ebd8e5"/><stop offset="0.75" stop-color="#eddce8"/><stop offset="0.8" stop-color="#efe0eb"/><stop offset="0.85" stop-color="#f1e4ee"/><stop offset="0.9" stop-color="#f3e8f1"/><stop offset="0.95" stop-color="#f3e9f1"/><stop offset="1" stop-color="#f4eaf2"/></linearGradient>
<linearGradient id="g37" x1="0" y1="0" x2="0" y2="1"><stop offset="0" stop-color="#bc2f93"/><stop offset="0.05" stop-color="#bd3895"/><stop offset="0.1" stop-color="#be4097"/><stop offset="0.15" stop-color="#c1529c"/><stop offset="0.2" stop-color="#c360a1"/><stop offset="0.25" stop-color="#c66ca6"/><stop offset="0.3" stop-color="#c976ab"/><stop offset="0.35" stop-color="#cd86b3"/><stop offset="0.4" stop-color="#d294bb"/><stop offset="0.45" stop-color="#d6a1c2"/><stop offset="0.5" stop-color="#daacc9"/><stop offset="0.55" stop-color="#dfb8d1"/><stop offset="0.6" stop-color="#e3c3d8"/><stop offset="0.65" stop-color="#e7cddf"/><stop offset="0.7" stop-color="#ecd7e5"/><stop offset="0.75" stop-color="#eddbe8"/><stop offset="0.8" stop-color="#efdfeb"/><stop offset="0.85" stop-color="#f1e3ee"/><stop offset="0.9" stop-color="#f3e7f1"/><stop offset="0.95" stop-color="#f4e8f1"/><stop offset="1" stop-color="#f4e9f2"/></linearGradient>
<linearGradient id="g38" x1="0" y1="0" x2="0" y2="1"><stop offset="0" stop-color="#c12c91"/><stop offset="0.05" stop-color="#c23693"/><stop offset="0.1" stop-color="#c33e95"/><stop offset="0.15" stop-color="#c5509b"/><stop offset="0.2" stop-color="#c85fa0"/><stop offset="0.25" stop-color="#ca6ba5"/><stop offset="0.3" stop-color="#cc75aa"/><stop offset="0.35" stop-color="#d085b2"/><stop offset="0.4" stop-color="#d494ba"/><stop offset="0.45" stop-color="#d8a0c1"/><stop offset="0.5" stop-color="#dcacc9"/><stop offset="0.55" stop-color="#e0b8d0"/><stop offset="0.6" stop-color="#e4c3d7"/><stop offset="0.65" stop-color="#e8cdde"/><stop offset="0.7" stop-color="#ebd7e5"/><stop offset="0.75" stop-color="#eddbe8"/><stop offset="0.8" stop-color="#efdfeb"/><stop offset="0.85" stop-color="#f0e3ee"/><stop offset="0.9" stop-color="#f2e7f1"/><stop offset="0.95" stop-color="#f3e8f1"/><stop offset="1" stop-color="#f3e9f2"/></linearGradient>
<linearGradient id="g39" x1="0" y1="0" x2="0" y2="1"><stop offset="0" stop-color="#c7298d"/><stop offset="0.05" stop-color="#c8348f"/><stop offset="0.1" stop-color="#c83c91"/><stop offset="0.15" stop-color="#cb4f97"/><stop offset="0.2" stop-color="#cd5d9d"/><stop offset="0.25" stop-color="#cf69a2"/><stop offset="0.3" stop-color="#d174a7"/><stop offset="0.35" stop-color="#d484b0"/><stop offset="0.4" stop-color="#d893b8"/><stop offset="0.45" stop-color="#db9fc0"/><stop offset="0.5" stop-color="#deabc7"/><stop offset="0.55" stop-color="#e2b7cf"/><stop offset="0.6" stop-color="#e5c2d7"/><stop offset="0.65" stop-color="#e9ccde"/><stop offset="0.7" stop-color="#ecd6e5"/><stop offset="0.75" stop-color="#eedae8"/><stop offset="0.8" stop-color="#efdeeb"/><stop offset="0.85" stop-color="#f1e2ee"/><stop offset="0.9" stop-color="#f2e6f0"/><stop offset="0.95" stop-color="#f3e7f1"/><stop offset="1" stop-color="#f3e8f2"/></linearGradient>
<linearGradient id="g40" x1="0" y1="0" x2="0" y2="1"><stop offset="0" stop-color="#cb268b"/><stop offset="0.05" stop-color="#cc318d"/><stop offset="0.1" stop-color="#cc3a8f"/><stop offset="0.15" stop-color="#ce4e95"/><stop offset="0.2" stop-color="#d05c9b"/><stop offset="0.25" stop-color="#d269a0"/><stop offset="0.3" stop-color="#d473a6"/><stop offset="0.35" stop-color="#d784ae"/><stop offset="0.4" stop-color="#da92b7"/><stop offset="0.45" stop-color="#dd9fbf"/><stop offset="0.5" stop-color="#e0abc6"/><stop offset="0.55" stop-color="#e3b7ce"/><stop offset="0.6" stop-color="#e7c2d5"/><stop offset="0.65" stop-color="#eaccdd"/><stop offset="0.7" stop-color="#edd6e3"/><stop offset="0.75" stop-color="#eedae7"/><stop offset="0.8" stop-color="#f0deea"/><stop offset="0.85" stop-color="#f1e2ed"/><stop offset="0.9" stop-color="#f2e6ef"/><stop offset="0.95" stop-color="#f3e7f0"/><stop offset="1" stop-color="#f3e8f1"/></linearGradient>
<linearGradient id="g41" x1="0" y1="0" x2="0" y2="1"><stop offset="0" stop-color="#cf2389"/><stop offset="0.05" stop-color="#d02f8b"/><stop offset="0.1" stop-color="#d0398e"/><stop offset="0.15" stop-color="#d24c94"/><stop offset="0.2" stop-color="#d45b99"/><stop offset="0.25" stop-color="#d5679f"/><stop offset="0.3" stop-color="#d772a4"/><stop offset="0.35" stop-color="#da83ad"/><stop offset="0.4" stop-color="#dc91b6"/><stop offset="0.45" stop-color="#df9ebe"/><stop offset="0.5" stop-color="#e2aac5"/><stop offset="0.55" stop-color="#e5b6cd"/><stop offset="0.6" stop-color="#e8c1d5"/><stop offset="0.65" stop-color="#ebcbdc"/><stop offset="0.7" stop-color="#edd5e3"/><stop offset="0.75" stop-color="#efd9e6"/><stop offset="0.8" stop-color="#f0dde9"/><stop offset="0.85" stop-color="#f1e1ec"/><stop offset="0.9" stop-color="#f2e5ef"/><stop offset="0.95" stop-color="#f3e6f0"/><stop offset="1" stop-color="#f3e7f1"/></linearGradient>
<linearGradient id="g42" x1="0" y1="0" x2="0" y2="1"><stop offset="0" stop-color="#d22187"/><stop offset="0.05" stop-color="#d32e89"/><stop offset="0.1" stop-color="#d3388c"/><stop offset="0.15" stop-color="#d54b92"/><stop offset="0.2" stop-color="#d65a98"/><stop offset="0.25" stop-color="#d8679e"/><stop offset="0.3" stop-color="#d972a3"/><stop offset="0.35" stop-color="#dc83ac"/><stop offset="0.4" stop-color="#de91b5"/><stop offset="0.45" stop-color="#e19ebd"/><stop offset="0.5" stop-color="#e3aac5"/><stop offset="0.55" stop-color="#e6b5cd"/><stop offset="0.6" stop-color="#e9c1d5"/><stop offset="0.65" stop-color="#ebcbdc"/><stop offset="0.7" stop-color="#eed5e3"/><stop offset="0.75" stop-color="#efd9e6"/><stop offset="0.8" stop-color="#f0dde9"/><stop offset="0.85" stop-color="#f1e1ec"/><stop offset="0.9" stop-color="#f2e5ef"/><stop offset="0.95" stop-color="#f3e6f0"/><stop offset="1" stop-color="#f3e7f1"/></linearGradient>
<linearGradient id="g43" x1="0" y1="0" x2="0" y2="1"><stop offset="0" stop-color="#d41f85"/><stop offset="0.05" stop-color="#d52d87"/><stop offset="0.1" stop-color="#d5368a"/><stop offset="0.15" stop-color="#d64b90"/><stop offset="0.2" stop-color="#d85a96"/><stop offset="0.25" stop-color="#d9669c"/><stop offset="0.3" stop-color="#db71a1"/><stop offset="0.35" stop-color="#dd82ab"/><stop offset="0.4" stop-color="#df90b3"/><stop offset="0.45" stop-color="#e29dbc"/><stop offset="0.5" stop-color="#e4a9c3"/><stop offset="0.55" stop-color="#e7b5cc"/><stop offset="0.6" stop-color="#e9c0d3"/><stop offset="0.65" stop-color="#eccadb"/><stop offset="0.7" stop-color="#eed4e2"/><stop offset="0.75" stop-color="#efd8e5"/><stop offset="0.8" stop-color="#f0dce8"/><stop offset="0.85" stop-color="#f1e0eb"/><stop offset="0.9" stop-color="#f2e4ee"/><stop offset="0.95" stop-color="#f3e5ef"/><stop offset="1" stop-color="#f3e6f0"/></linearGradient>
<linearGradient id="g44" x1="0" y1="0" x2="0" y2="1"><stop offset="0" stop-color="#d71e83"/><stop offset="0.05" stop-color="#d72c85"/><stop offset="0.1" stop-color="#d83688"/><stop offset="0.15" stop-color="#d94a8e"/><stop offset="0.2" stop-color="#da5995"/><stop offset="0.25" stop-color="#dc669b"/><stop offset="0.3" stop-color="#dd71a0"/><stop offset="0.35" stop-color="#df82aa"/><stop offset="0.4" stop-color="#e190b3"/><stop offset="0.45" stop-color="#e39dbb"/><stop offset="0.5" stop-color="#e6a9c3"/><stop offset="0.55" stop-color="#e8b5cb"/><stop offset="0.6" stop-color="#eac0d3"/><stop offset="0.65" stop-color="#eccadb"/><stop offset="0.7" stop-color="#efd4e2"/><stop offset="0.75" stop-color="#f0d8e5"/><stop offset="0.8" stop-color="#f1dce8"/><stop offset="0.85" stop-color="#f1e0eb"/><stop offset="0.9" stop-color="#f2e4ee"/><stop offset="0.95" stop-color="#f3e5ef"/><stop offset="1" stop-color="#f3e6f0"/></linearGradient>
</defs>
<rect class="pn" x="81" y="2.5" width="308.3" height="555.6"/>
<rect class="pn" x="394.5" y="2.5" width="303.7" height="555.6"/>
<rect class="pn" x="704.3" y="2.5" width="309.2" height="555.6"/>
<rect class="pn" x="1019.8" y="2.5" width="308.4" height="555.6"/>
<rect class="pn" x="1334.5" y="2.5" width="308.2" height="555.6"/>
<rect x="84.5" y="242.5" width="29.6" height="313.3" fill="url(#g0)"/>
<rect x="117.65" y="284.05" width="29.6" height="271.75" fill="url(#g1)"/>
<rect x="150.7" y="233" width="29.6" height="322.8" fill="url(#g2)"/>
<rect x="188.5" y="419.5" width="29.6" height="136.3" fill="url(#g3)"/>
<rect x="221.65" y="365.2" width="29.6" height="190.6" fill="url(#g4)"/>
<rect x="254.7" y="386.5" width="29.6" height="169.3" fill="url(#g5)"/>
<rect x="292.9" y="460.8" width="29.6" height="95" fill="url(#g6)"/>
<rect x="326.05" y="451.8" width="29.6" height="104" fill="url(#g7)"/>
<rect x="359.1" y="472.4" width="29.6" height="83.4" fill="url(#g8)"/>
<rect x="397.3" y="227.2" width="29.6" height="328.6" fill="url(#g9)"/>
<rect x="430.45" y="280" width="29.6" height="275.8" fill="url(#g10)"/>
<rect x="463.5" y="280.5" width="29.6" height="275.3" fill="url(#g11)"/>
<rect x="501.8" y="431" width="29.6" height="124.8" fill="url(#g12)"/>
<rect x="534.95" y="397.2" width="29.6" height="158.6" fill="url(#g13)"/>
<rect x="568" y="385.7" width="29.6" height="170.1" fill="url(#g14)"/>
<rect x="606" y="462.3" width="29.6" height="93.5" fill="url(#g15)"/>
<rect x="639.15" y="460.1" width="29.6" height="95.7" fill="url(#g16)"/>
<rect x="672.2" y="452.8" width="29.6" height="103" fill="url(#g17)"/>
<rect x="709.7" y="265.8" width="29.6" height="290" fill="url(#g18)"/>
<rect x="742.85" y="273" width="29.6" height="282.8" fill="url(#g19)"/>
<rect x="775.9" y="292.8" width="29.6" height="263" fill="url(#g20)"/>
<rect x="813.6" y="416.5" width="29.6" height="139.3" fill="url(#g21)"/>
<rect x="846.75" y="427" width="29.6" height="128.8" fill="url(#g22)"/>
<rect x="879.8" y="379" width="29.6" height="176.8" fill="url(#g23)"/>
<rect x="917.8" y="448.1" width="29.6" height="107.7" fill="url(#g24)"/>
<rect x="950.95" y="449.3" width="29.6" height="106.5" fill="url(#g25)"/>
<rect x="984" y="454.8" width="29.6" height="101" fill="url(#g26)"/>
<rect x="1021.8" y="277" width="29.6" height="278.8" fill="url(#g27)"/>
<rect x="1054.95" y="266" width="29.6" height="289.8" fill="url(#g28)"/>
<rect x="1088" y="284.05" width="29.6" height="271.75" fill="url(#g29)"/>
<rect x="1126" y="419.5" width="29.6" height="136.3" fill="url(#g30)"/>
<rect x="1159.15" y="439.8" width="29.6" height="116" fill="url(#g31)"/>
<rect x="1192.2" y="392.5" width="29.6" height="163.3" fill="url(#g32)"/>
<rect x="1230.4" y="464.3" width="29.6" height="91.5" fill="url(#g33)"/>
<rect x="1263.55" y="460.1" width="29.6" height="95.7" fill="url(#g34)"/>
<rect x="1296.6" y="460.1" width="29.6" height="95.7" fill="url(#g35)"/>
<rect x="1334.2" y="300.1" width="29.6" height="255.7" fill="url(#g36)"/>
<rect x="1367.35" y="252.8" width="29.6" height="303" fill="url(#g37)"/>
<rect x="1400.4" y="263.3" width="29.6" height="292.5" fill="url(#g38)"/>
<rect x="1438.1" y="412" width="29.6" height="143.8" fill="url(#g39)"/>
<rect x="1471.25" y="433.5" width="29.6" height="122.3" fill="url(#g40)"/>
<rect x="1504.3" y="396.2" width="29.6" height="159.6" fill="url(#g41)"/>
<rect x="1542.3" y="472.1" width="29.6" height="83.7" fill="url(#g42)"/>
<rect x="1575.45" y="451.3" width="29.6" height="104.5" fill="url(#g43)"/>
<rect x="1608.5" y="468.9" width="29.6" height="86.9" fill="url(#g44)"/>
<path class="eb" d="M99.3 243 V138.6 M93.4 138.6 H105.2"/>
<text class="sig" x="98.8" y="134.7">d</text>
<path class="eb" d="M132.45 284.55 V230 M126.55 230 H138.35"/>
<text class="sig" x="131.95" y="226.1">de</text>
<path class="eb" d="M165.5 233.5 V170.6 M159.6 170.6 H171.4"/>
<text class="sig" x="165" y="166.7">d</text>
<path class="eb" d="M203.3 420 V392.2 M197.4 392.2 H209.2"/>
<text class="sig" x="202.8" y="388.3">ijkl</text>
<path class="eb" d="M236.45 365.7 V316.6 M230.55 316.6 H242.35"/>
<text class="sig" x="235.95" y="312.7">efgh</text>
<path class="eb" d="M269.5 387 V353.4 M263.6 353.4 H275.4"/>
<text class="sig" x="269" y="349.5">ijkl</text>
<path class="eb" d="M307.7 461.3 V442 M301.8 442 H313.6"/>
<text class="sig" x="307.2" y="438.1">jkl</text>
<path class="eb" d="M340.85 452.3 V418.8 M334.95 418.8 H346.75"/>
<text class="sig" x="340.35" y="414.9">jkl</text>
<path class="eb" d="M373.9 472.9 V468.1 M368 468.1 H379.8"/>
<text class="sig" x="373.4" y="464.2">l</text>
<path class="eb" d="M412.1 227.7 V121 M406.2 121 H418"/>
<text class="sig" x="411.6" y="117.1">d</text>
<path class="eb" d="M445.25 280.5 V228.5 M439.35 228.5 H451.15"/>
<text class="sig" x="444.75" y="224.6">de</text>
<path class="eb" d="M478.3 281 V258.8 M472.4 258.8 H484.2"/>
<text class="sig" x="477.8" y="254.9">de</text>
<path class="eb" d="M516.6 431.5 V407 M510.7 407 H522.5"/>
<text class="sig" x="516.1" y="403.1">ijkl</text>
<path class="eb" d="M549.75 397.7 V386 M543.85 386 H555.65"/>
<text class="sig" x="549.25" y="382.1">ijkl</text>
<path class="eb" d="M582.8 386.2 V330.6 M576.9 330.6 H588.7"/>
<text class="sig" x="582.3" y="326.7">hijk</text>
<path class="eb" d="M620.8 462.8 V442.6 M614.9 442.6 H626.7"/>
<text class="sig" x="620.3" y="438.7">jkl</text>
<path class="eb" d="M653.95 460.6 V450 M648.05 450 H659.85"/>
<text class="sig" x="653.45" y="446.1">jkl</text>
<path class="eb" d="M687 453.3 V424.5 M681.1 424.5 H692.9"/>
<text class="sig" x="686.5" y="420.6">jkl</text>
<path class="eb" d="M724.5 266.3 V166.1 M718.6 166.1 H730.4"/>
<text class="sig" x="724" y="162.2">d</text>
<path class="eb" d="M757.65 273.5 V224.5 M751.75 224.5 H763.55"/>
<text class="sig" x="757.15" y="220.6">d</text>
<path class="eb" d="M790.7 293.3 V277.5 M784.8 277.5 H796.6"/>
<text class="sig" x="790.2" y="273.6">def</text>
<path class="eb" d="M828.4 417 V400.3 M822.5 400.3 H834.3"/>
<text class="sig" x="827.9" y="396.4">ijkl</text>
<path class="eb" d="M861.55 427.5 V412.3 M855.65 412.3 H867.45"/>
<text class="sig" x="861.05" y="408.4">ijkl</text>
<path class="eb" d="M894.6 379.5 V328.4 M888.7 328.4 H900.5"/>
<text class="sig" x="894.1" y="324.5">fghi</text>
<path class="eb" d="M932.6 448.6 V421.5 M926.7 421.5 H938.5"/>
<text class="sig" x="932.1" y="417.6">ijkl</text>
<path class="eb" d="M965.75 449.8 V429 M959.85 429 H971.65"/>
<text class="sig" x="965.25" y="425.1">ijkl</text>
<path class="eb" d="M998.8 455.3 V433.3 M992.9 433.3 H1004.7"/>
<text class="sig" x="998.3" y="429.4">jkl</text>
<path class="eb" d="M1036.6 277.5 V222 M1030.7 222 H1042.5"/>
<text class="sig" x="1036.1" y="218.1">d</text>
<path class="eb" d="M1069.75 266.5 V208.7 M1063.85 208.7 H1075.65"/>
<text class="sig" x="1069.25" y="204.8">d</text>
<path class="eb" d="M1102.8 284.55 V252.3 M1096.9 252.3 H1108.7"/>
<text class="sig" x="1102.3" y="248.4">de</text>
<path class="eb" d="M1140.8 420 V408.3 M1134.9 408.3 H1146.7"/>
<text class="sig" x="1140.3" y="404.4">ijkl</text>
<path class="eb" d="M1173.95 440.3 V399.8 M1168.05 399.8 H1179.85"/>
<text class="sig" x="1173.45" y="395.9">ijkl</text>
<path class="eb" d="M1207 393 V356.4 M1201.1 356.4 H1212.9"/>
<text class="sig" x="1206.5" y="352.5">ijkl</text>
<path class="eb" d="M1245.2 464.8 V449 M1239.3 449 H1251.1"/>
<text class="sig" x="1244.7" y="445.1">jkl</text>
<path class="eb" d="M1278.35 460.6 V442.8 M1272.45 442.8 H1284.25"/>
<text class="sig" x="1277.85" y="438.9">jkl</text>
<path class="eb" d="M1311.4 460.6 V443.3 M1305.5 443.3 H1317.3"/>
<text class="sig" x="1310.9" y="439.4">jkl</text>
<path class="eb" d="M1349 300.6 V230.7 M1343.1 230.7 H1354.9"/>
<text class="sig" x="1353" y="226.8">defg</text>
<path class="eb" d="M1382.15 253.3 V210.7 M1376.25 210.7 H1388.05"/>
<text class="sig" x="1381.65" y="206.8">d</text>
<path class="eb" d="M1415.2 263.8 V194.4 M1409.3 194.4 H1421.1"/>
<text class="sig" x="1414.7" y="190.5">d</text>
<path class="eb" d="M1452.9 412.5 V388.2 M1447 388.2 H1458.8"/>
<text class="sig" x="1452.4" y="384.3">ijkl</text>
<path class="eb" d="M1486.05 434 V412.5 M1480.15 412.5 H1491.95"/>
<text class="sig" x="1485.55" y="408.6">ijkl</text>
<path class="eb" d="M1519.1 396.7 V355.7 M1513.2 355.7 H1525"/>
<text class="sig" x="1518.6" y="351.8">ijkl</text>
<path class="eb" d="M1557.1 472.6 V460.6 M1551.2 460.6 H1563"/>
<text class="sig" x="1556.6" y="456.7">kl</text>
<path class="eb" d="M1590.25 451.8 V437.5 M1584.35 437.5 H1596.15"/>
<text class="sig" x="1589.75" y="433.6">ijkl</text>
<path class="eb" d="M1623.3 469.4 V463.6 M1617.4 463.6 H1629.2"/>
<text class="sig" x="1622.8" y="459.7">kl</text>
<path class="ax" d="M80 3 V559.1"/>
<path class="ax" d="M67 558.1 H1643"/>
<path class="ax" d="M74 496.55 H80"/>
<path class="ax" d="M67 435 H80"/>
<path class="ax" d="M74 373.45 H80"/>
<path class="ax" d="M67 311.9 H80"/>
<path class="ax" d="M74 250.35 H80"/>
<path class="ax" d="M67 188.8 H80"/>
<path class="ax" d="M74 127.25 H80"/>
<path class="ax" d="M67 65.7 H80"/>
<path class="ax" d="M74 4.15 H80"/>
<text class="yt" transform="translate(59.1 567.2) scale(0.930 1)">0</text>
<text class="yt" transform="translate(59.1 444.1) scale(0.930 1)">2</text>
<text class="yt" transform="translate(59.1 321) scale(0.930 1)">4</text>
<text class="yt" transform="translate(59.1 197.9) scale(0.930 1)">6</text>
<text class="yt" transform="translate(59.1 74.8) scale(0.930 1)">8</text>
<text class="pt" transform="translate(370.8 46) scale(0.933 1)">A1</text>
<text class="pt" transform="translate(688.1 46) scale(0.933 1)">A2</text>
<text class="pt" transform="translate(1004.3 46) scale(0.933 1)">A3</text>
<text class="pt" transform="translate(1320.3 46) scale(0.933 1)">A4</text>
<text class="pt" transform="translate(1636.3 46) scale(0.933 1)">A5</text>
<text class="c" transform="translate(98.5 586.5) scale(0.897 1)">C1</text>
<text class="c" transform="translate(131.65 586.5) scale(0.897 1)">C2</text>
<text class="c" transform="translate(164.7 586.5) scale(0.897 1)">C3</text>
<path class="gl" d="M82.2 597 H180.8"/>
<text class="b" transform="translate(131.9 628) scale(0.875 1)">B1</text>
<text class="c" transform="translate(202.5 586.5) scale(0.897 1)">C1</text>
<text class="c" transform="translate(235.65 586.5) scale(0.897 1)">C2</text>
<text class="c" transform="translate(268.7 586.5) scale(0.897 1)">C3</text>
<path class="gl" d="M186.2 597 H284.8"/>
<text class="b" transform="translate(235.9 628) scale(0.875 1)">B2</text>
<text class="c" transform="translate(306.9 586.5) scale(0.897 1)">C1</text>
<text class="c" transform="translate(340.05 586.5) scale(0.897 1)">C2</text>
<text class="c" transform="translate(373.1 586.5) scale(0.897 1)">C3</text>
<path class="gl" d="M290.6 597 H389.2"/>
<text class="b" transform="translate(340.3 628) scale(0.875 1)">B3</text>
<text class="c" transform="translate(411.3 586.5) scale(0.897 1)">C1</text>
<text class="c" transform="translate(444.45 586.5) scale(0.897 1)">C2</text>
<text class="c" transform="translate(477.5 586.5) scale(0.897 1)">C3</text>
<path class="gl" d="M395 597 H493.6"/>
<text class="b" transform="translate(444.7 628) scale(0.875 1)">B1</text>
<text class="c" transform="translate(515.8 586.5) scale(0.897 1)">C1</text>
<text class="c" transform="translate(548.95 586.5) scale(0.897 1)">C2</text>
<text class="c" transform="translate(582 586.5) scale(0.897 1)">C3</text>
<path class="gl" d="M499.5 597 H598.1"/>
<text class="b" transform="translate(549.2 628) scale(0.875 1)">B2</text>
<text class="c" transform="translate(620 586.5) scale(0.897 1)">C1</text>
<text class="c" transform="translate(653.15 586.5) scale(0.897 1)">C2</text>
<text class="c" transform="translate(686.2 586.5) scale(0.897 1)">C3</text>
<path class="gl" d="M603.7 597 H702.3"/>
<text class="b" transform="translate(653.4 628) scale(0.875 1)">B3</text>
<text class="c" transform="translate(723.7 586.5) scale(0.897 1)">C1</text>
<text class="c" transform="translate(756.85 586.5) scale(0.897 1)">C2</text>
<text class="c" transform="translate(789.9 586.5) scale(0.897 1)">C3</text>
<path class="gl" d="M707.4 597 H806"/>
<text class="b" transform="translate(757.1 628) scale(0.875 1)">B1</text>
<text class="c" transform="translate(827.6 586.5) scale(0.897 1)">C1</text>
<text class="c" transform="translate(860.75 586.5) scale(0.897 1)">C2</text>
<text class="c" transform="translate(893.8 586.5) scale(0.897 1)">C3</text>
<path class="gl" d="M811.3 597 H909.9"/>
<text class="b" transform="translate(861 628) scale(0.875 1)">B2</text>
<text class="c" transform="translate(931.8 586.5) scale(0.897 1)">C1</text>
<text class="c" transform="translate(964.95 586.5) scale(0.897 1)">C2</text>
<text class="c" transform="translate(998 586.5) scale(0.897 1)">C3</text>
<path class="gl" d="M915.5 597 H1014.1"/>
<text class="b" transform="translate(965.2 628) scale(0.875 1)">B3</text>
<text class="c" transform="translate(1035.8 586.5) scale(0.897 1)">C1</text>
<text class="c" transform="translate(1068.95 586.5) scale(0.897 1)">C2</text>
<text class="c" transform="translate(1102 586.5) scale(0.897 1)">C3</text>
<path class="gl" d="M1019.5 597 H1118.1"/>
<text class="b" transform="translate(1069.2 628) scale(0.875 1)">B1</text>
<text class="c" transform="translate(1140 586.5) scale(0.897 1)">C1</text>
<text class="c" transform="translate(1173.15 586.5) scale(0.897 1)">C2</text>
<text class="c" transform="translate(1206.2 586.5) scale(0.897 1)">C3</text>
<path class="gl" d="M1123.7 597 H1222.3"/>
<text class="b" transform="translate(1173.4 628) scale(0.875 1)">B2</text>
<text class="c" transform="translate(1244.4 586.5) scale(0.897 1)">C1</text>
<text class="c" transform="translate(1277.55 586.5) scale(0.897 1)">C2</text>
<text class="c" transform="translate(1310.6 586.5) scale(0.897 1)">C3</text>
<path class="gl" d="M1228.1 597 H1326.7"/>
<text class="b" transform="translate(1277.8 628) scale(0.875 1)">B3</text>
<text class="c" transform="translate(1348.2 586.5) scale(0.897 1)">C1</text>
<text class="c" transform="translate(1381.35 586.5) scale(0.897 1)">C2</text>
<text class="c" transform="translate(1414.4 586.5) scale(0.897 1)">C3</text>
<path class="gl" d="M1331.9 597 H1430.5"/>
<text class="b" transform="translate(1381.6 628) scale(0.875 1)">B1</text>
<text class="c" transform="translate(1452.1 586.5) scale(0.897 1)">C1</text>
<text class="c" transform="translate(1485.25 586.5) scale(0.897 1)">C2</text>
<text class="c" transform="translate(1518.3 586.5) scale(0.897 1)">C3</text>
<path class="gl" d="M1435.8 597 H1534.4"/>
<text class="b" transform="translate(1485.5 628) scale(0.875 1)">B2</text>
<text class="c" transform="translate(1556.3 586.5) scale(0.897 1)">C1</text>
<text class="c" transform="translate(1589.45 586.5) scale(0.897 1)">C2</text>
<text class="c" transform="translate(1622.5 586.5) scale(0.897 1)">C3</text>
<path class="gl" d="M1540 597 H1638.6"/>
<text class="b" transform="translate(1589.7 628) scale(0.875 1)">B3</text>
<g transform="translate(34.0 0) rotate(-90)">
<text class="ttl" transform="translate(-629.2 0) scale(0.958 1)">Standardized</text>
<text class="ttl" transform="translate(-451.9 0) scale(0.958 1)">Oxygen</text>
<text class="ttl" transform="translate(-346.2 0) scale(0.958 1)">Consumption</text>
<text class="par" x="-173.3" y="-2.6">（</text>
<text class="unit" transform="translate(-149.5 0) scale(0.980 1)">mL/min/kg</text>
<text class="sup" x="-33.2" y="-15.2">2</text>
<text class="par" x="-18" y="-2.3">）</text>
</g>
</svg>
</body></html>
